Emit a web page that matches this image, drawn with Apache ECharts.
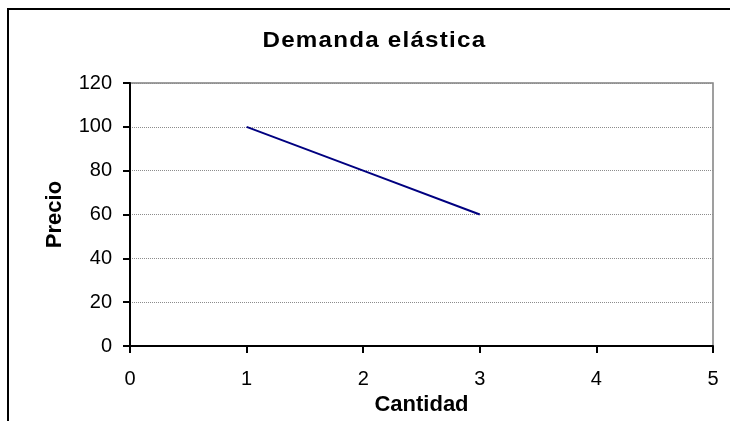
<!DOCTYPE html>
<html>
<head>
<meta charset="utf-8">
<script src="https://cdn.jsdelivr.net/npm/echarts@6/dist/echarts.min.js"></script>
<style>
  html, body { margin: 0; padding: 0; background: #fff; }
  #chart { width: 730px; height: 421px; }
</style>
</head>
<body>
<div id="chart"></div>
<script>
// Demand curve points (Cantidad, Precio)
const cantidad = [1, 2, 3];
const precio = [100, 80, 60];

const titleText = 'Demanda elástica';
const xName = 'Cantidad';
const yName = 'Precio';

const FONT = '"Liberation Sans", Arial, sans-serif';

// Title drawn letter by letter, slightly widened and tracked out
function trackedTitle(text, x, y, size, spacing, stretch) {
  const ctx = document.createElement('canvas').getContext('2d');
  ctx.font = 'bold ' + size + 'px ' + FONT;
  const children = [];
  let cx = 0;
  Array.from(text).forEach(c => {
    children.push({
      type: 'text',
      x: cx, y: 0,
      style: {
        text: c, fontSize: size, fontWeight: 'bold', fontFamily: FONT,
        fill: '#000', align: 'left', verticalAlign: 'middle'
      }
    });
    cx += ctx.measureText(c).width + spacing;
  });
  return { type: 'group', x: x, y: y, scaleX: stretch, silent: true, children: children };
}

const chart = echarts.init(document.getElementById('chart'), null, { renderer: 'canvas' });

chart.setOption({
  animation: false,
  backgroundColor: '#ffffff',
  graphic: [
    {
      type: 'rect',
      shape: { x: 8, y: 9, width: 900, height: 600 },
      style: { fill: 'none', stroke: '#000', lineWidth: 2 },
      silent: true,
      z: 100
    },
    trackedTitle(titleText, 262.5, 41, 22, 1.1, 1.1)
  ],
  grid: {
    left: 130, right: 17, top: 83, bottom: 75,
    show: true,
    borderColor: '#808080',
    borderWidth: 1.5,
    backgroundColor: '#fff'
  },
  xAxis: {
    type: 'value',
    min: 0, max: 5, interval: 1,
    name: xName,
    nameLocation: 'middle',
    nameGap: 46,
    nameTextStyle: { fontFamily: FONT, fontWeight: 'bold', fontSize: 22, color: '#000' },
    axisLine: { show: true, lineStyle: { color: '#000', width: 2 } },
    axisTick: { show: true, length: 7, lineStyle: { color: '#000', width: 2 } },
    axisLabel: { margin: 23, fontFamily: FONT, fontSize: 20, color: '#000' },
    splitLine: { show: false }
  },
  yAxis: {
    type: 'value',
    min: 0, max: 120, interval: 20,
    name: yName,
    nameLocation: 'middle',
    nameGap: 64,
    nameRotate: 90,
    nameTextStyle: { fontFamily: FONT, fontWeight: 'bold', fontSize: 22, color: '#000' },
    axisLine: { show: true, lineStyle: { color: '#000', width: 2 } },
    axisTick: { show: true, length: 7, lineStyle: { color: '#000', width: 2 } },
    axisLabel: { margin: 18, fontFamily: FONT, fontSize: 20, color: '#000' },
    splitLine: { show: true, lineStyle: { color: '#8c8c8c', width: 1, type: [1, 1] } }
  },
  series: [{
    type: 'line',
    data: cantidad.map((q, i) => [q, precio[i]]),
    showSymbol: false,
    symbol: 'none',
    lineStyle: { color: '#000080', width: 2 },
    z: 5
  }]
});
</script>
</body>
</html>
